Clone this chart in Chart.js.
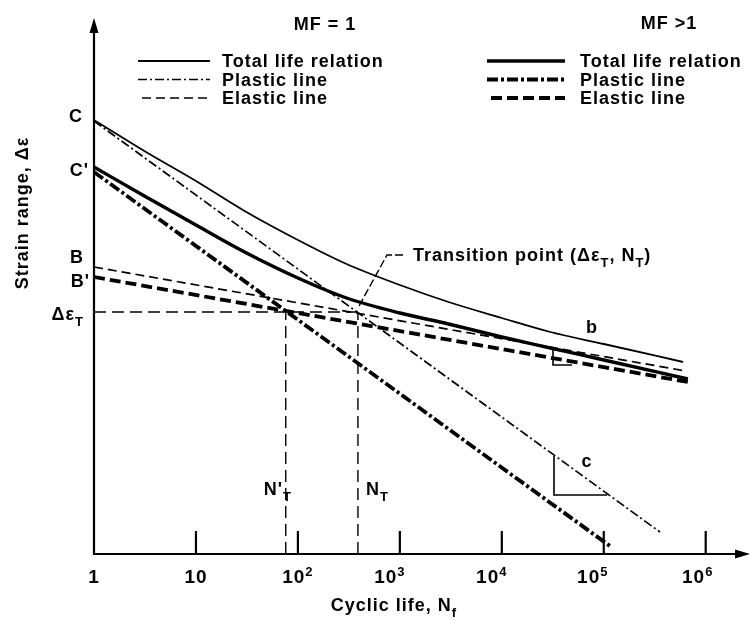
<!DOCTYPE html>
<html><head><meta charset="utf-8">
<script src="https://cdn.jsdelivr.net/npm/chart.js@4.4.1/dist/chart.umd.min.js"></script>
<style>html,body{margin:0;padding:0;background:#fff;}canvas{display:block;}</style>
</head><body>
<canvas id="c" width="754" height="620"></canvas>
<script>
// ---- data (x: cyclic life N_f, y: relative log strain range) ----
const lifeTicks = [1, 10, 100, 1000, 10000, 100000, 1000000];
const tickBase = ['1', '10', '10', '10', '10', '10', '10'];
const tickExp = ['', '', '2', '3', '4', '5', '6'];

const totalN1 = [1, 3, 10, 30, 100, 300, 1000, 3000, 1e4, 3e4, 1e5, 6e5];
const total1 = [4.34, 4.04, 3.73, 3.43, 3.14, 2.90, 2.69, 2.52, 2.36, 2.22, 2.10, 1.92];
const totalNMF = [1, 3, 10, 30, 100, 300, 1000, 3000, 1e4, 3e4, 1e5, 6.7e5];
const totalMF = [3.87, 3.59, 3.29, 3.02, 2.76, 2.56, 2.41, 2.30, 2.17, 2.06, 1.94, 1.75];

const plasticN1 = [1, 3.56e5];
const plastic1 = [4.33, 0.22];
const plasticNMF = [1, 1.15e5];
const plasticMF = [3.82, 0.08];

const elasticN1 = [1, 6.4e5];
const elastic1 = [2.87, 1.83];
const elasticNMF = [1, 6.7e5];
const elasticMF = [2.77, 1.72];

const deltaEpsT = 2.42;
const N_T = 388;
const N_Tprime = 76;

const slopeCN = [3.25e4, 3.25e4, 1.08e5];
const slopeCY = [0.98, 0.59, 0.59];
const slopeBN = [3.18e4, 3.18e4, 4.88e4];
const slopeBY = [2.06, 1.89, 1.89];
const leaderN = [1074, 748, N_T];
const leaderY = [2.99, 2.99, 2.46];

const yLabels = ['C', "C'", 'B', "B'"];
const yLabelValues = [4.33, 3.82, 2.87, 2.77];

// ---- helpers ----
const zip = (ns, ys) => ns.map((n, i) => ({x: n, y: ys[i]}));
const BLACK = '#000';
const FONT = 'bold 18px "Liberation Sans", Arial, sans-serif';
const TICKFONT = 'bold 19px "Liberation Sans", Arial, sans-serif';
const SMALL = 'bold 13px "Liberation Sans", Arial, sans-serif';

function line(label, data, width, dash, smooth) {
  return {label, data, borderColor: BLACK, borderWidth: width, borderDash: dash || [],
    pointRadius: 0, fill: false, cubicInterpolationMode: smooth ? 'monotone' : 'default',
    tension: 0, clip: false, borderCapStyle: 'butt'};
}

const dashDotThin = [9, 3, 2, 3];
const dashDotThick = [11, 3, 3, 3];
const dashThin = [9, 5];
const dashThick = [11, 5];

const datasets = [
  line('Total life relation (MF = 1)', zip(totalN1, total1), 1.8, null, true),
  line('Plastic line (MF = 1)', zip(plasticN1, plastic1), 1.7, dashDotThin),
  line('Elastic line (MF = 1)', zip(elasticN1, elastic1), 1.7, dashThin),
  line('Total life relation (MF >1)', zip(totalNMF, totalMF), 3.4, null, true),
  line('Plastic line (MF >1)', zip(plasticNMF, plasticMF), 3.8, dashDotThick),
  line('Elastic line (MF >1)', zip(elasticNMF, elasticMF), 3.8, dashThick),
  line('Δε_T', zip([1, N_T], [deltaEpsT, deltaEpsT]), 1.4, [12, 6]),
  line('N_T', zip([N_T, N_T], [0, deltaEpsT]), 1.4, [12, 6]),
  line("N'_T", zip([N_Tprime, N_Tprime], [0, deltaEpsT]), 1.4, [12, 6]),
  line('slope c', zip(slopeCN, slopeCY), 1.6),
  line('slope b', zip(slopeBN, slopeBY), 1.6),
  line('leader', zip(leaderN, leaderY), 1.4, [8, 3])
];

function drawRich(ctx, parts, x, y, align, base) {
  const BF = base || FONT;
  let w = 0;
  parts.forEach(p => { ctx.font = p[1] ? SMALL : BF; w += ctx.measureText(p[0]).width; });
  let cx = align === 'center' ? x - w / 2 : align === 'right' ? x - w : x;
  ctx.textAlign = 'left';
  ctx.textBaseline = 'alphabetic';
  parts.forEach(p => {
    ctx.font = p[1] ? SMALL : BF;
    const dy = p[1] === 1 ? 6 : p[1] === 2 ? -7 : 0;
    ctx.fillText(p[0], cx, y + dy);
    cx += ctx.measureText(p[0]).width;
  });
}

const extras = {
  id: 'extras',
  afterDatasetsDraw(chart) {
    const {ctx, chartArea: a, scales: {x, y}} = chart;
    const ds = chart.data.datasets;
    ctx.save();
    ctx.strokeStyle = BLACK; ctx.fillStyle = BLACK;
    try { ctx.letterSpacing = '1px'; } catch (e) {}
    const x0 = x.getPixelForValue(1), y0 = y.getPixelForValue(0);
    // axes
    ctx.setLineDash([]); ctx.lineWidth = 2.2;
    ctx.beginPath();
    ctx.moveTo(x0, y0 + 1); ctx.lineTo(x0, a.top + 10);
    ctx.moveTo(x0 - 1, y0); ctx.lineTo(a.right - 10, y0);
    ctx.stroke();
    ctx.beginPath(); ctx.moveTo(x0, a.top); ctx.lineTo(x0 - 4.5, a.top + 15); ctx.lineTo(x0 + 4.5, a.top + 15); ctx.closePath(); ctx.fill();
    ctx.beginPath(); ctx.moveTo(a.right, y0); ctx.lineTo(a.right - 15, y0 - 4.5); ctx.lineTo(a.right - 15, y0 + 4.5); ctx.closePath(); ctx.fill();
    // ticks + tick labels
    const shift = [0, 0, 0, -10, -10, -11, -8];
    lifeTicks.forEach((v, i) => {
      const px = x.getPixelForValue(v);
      if (i > 0) { ctx.beginPath(); ctx.moveTo(px, y0); ctx.lineTo(px, y0 - 23); ctx.stroke(); }
      const parts = [[tickBase[i], 0]];
      if (tickExp[i]) parts.push([tickExp[i], 2]);
      drawRich(ctx, parts, px + shift[i], y0 + 29, 'center', TICKFONT);
    });
    // axis titles
    drawRich(ctx, [['Cyclic life, N', 0], ['f', 1]], 394, 611, 'center');
    ctx.save();
    ctx.translate(23, 213); ctx.rotate(-Math.PI / 2);
    ctx.font = FONT; ctx.textAlign = 'center'; ctx.textBaseline = 'middle';
    ctx.fillText('Strain range, Δε', 0, 0);
    ctx.restore();
    // y-axis point labels
    const yOff = [1, 4, -4, 10];
    const xRight = [83, 89, 84, 90];
    yLabels.forEach((t, i) => {
      drawRich(ctx, [[t, 0]], xRight[i], y.getPixelForValue(yLabelValues[i]) + yOff[i], 'right');
    });
    drawRich(ctx, [['Δε', 0], ['T', 1]], 84, y.getPixelForValue(deltaEpsT) + 8, 'right');
    // N_T labels
    drawRich(ctx, [["N'", 0], ['T', 1]], x.getPixelForValue(N_Tprime) - 22, 495, 'left');
    drawRich(ctx, [['N', 0], ['T', 1]], x.getPixelForValue(N_T) + 8, 495, 'left');
    // slope labels
    drawRich(ctx, [['b', 0]], 592, 333, 'center');
    drawRich(ctx, [['c', 0]], 587, 467, 'center');
    // transition label
    drawRich(ctx, [['Transition point (Δε', 0], ['T', 1], [', N', 0], ['T', 1], [')', 0]], 413, 261, 'left');
    // legends
    drawRich(ctx, [['MF = 1', 0]], 325, 30, 'center');
    drawRich(ctx, [['MF >1', 0]], 669, 29, 'center');
    const names = ['Total life relation', 'Plastic line', 'Elastic line'];
    const rowsY = [61, 79.5, 98];
    const textY = [67, 85.5, 104];
    [[0, 138, 210, 222], [3, 487, 565, 580]].forEach(([start, x1, x2, tx]) => {
      for (let k = 0; k < 3; k++) {
        const d = ds[start + k];
        ctx.lineWidth = d.borderWidth; ctx.setLineDash(d.borderDash || []);
        ctx.beginPath(); ctx.moveTo(x1 + (k === 2 ? 4 : 0), rowsY[k]); ctx.lineTo(x2, rowsY[k]); ctx.stroke();
        drawRich(ctx, [[names[k], 0]], tx, textY[k], 'left');
      }
    });
    ctx.restore();
  }
};

new Chart(document.getElementById('c'), {
  type: 'line',
  data: {datasets},
  options: {
    responsive: false, animation: false, parsing: true,
    layout: {padding: {left: 94, top: 18, right: 4, bottom: 66}},
    plugins: {legend: {display: false}, tooltip: {enabled: false}},
    scales: {
      x: {type: 'logarithmic', min: 1, max: Math.pow(10, 6.4345), display: false},
      y: {type: 'linear', min: 0, max: 5.36, display: false}
    }
  },
  plugins: [extras]
});
</script>
</body></html>
